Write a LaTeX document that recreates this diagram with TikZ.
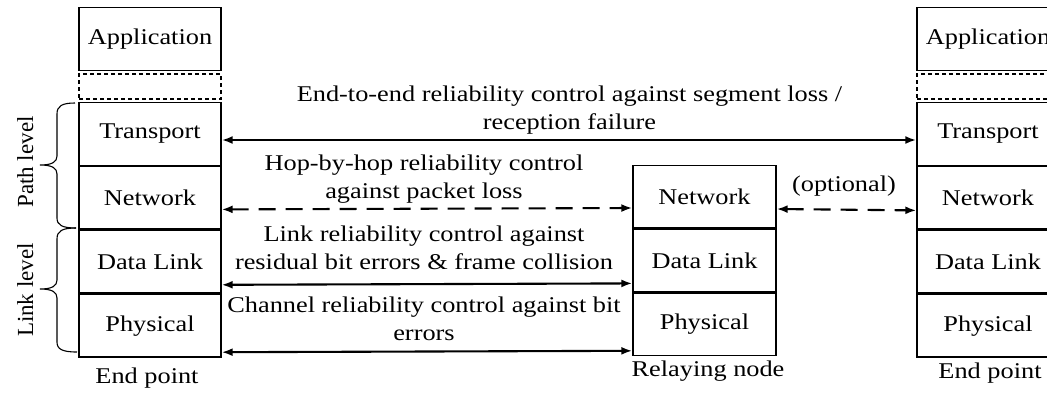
\documentclass[tikz,border=0pt]{standalone}
\usepackage{fontspec}
\setmainfont{Liberation Serif}[FakeStretch=1.17]
\newfontfamily\uprightlbl{Liberation Serif}
\usetikzlibrary{arrows.meta}
\begin{document}
\begin{tikzpicture}[x=1pt,y=-1pt,
  txt/.style={font=\fontsize{22.5pt}{28pt}\selectfont},
  layer/.style={draw, line width=1.4pt, minimum width=142pt, minimum height=62.5pt, inner sep=0pt, txt},
  gapbox/.style={draw, dash pattern=on 4pt off 3pt, line width=1.1pt, minimum width=142pt, minimum height=25pt, inner sep=0pt},
  link/.style={line width=2.1pt, {Latex[length=11pt,width=8pt]}-{Latex[length=11pt,width=8pt]}},
  dlink/.style={link, dash pattern=on 17pt off 10pt},
  lbl/.style={txt, align=center, inner sep=0pt},
  sidelbl/.style={font=\uprightlbl\fontsize{23pt}{28pt}\selectfont, inner sep=0pt, rotate=90, anchor=base},
  brc/.style={line width=1.1pt}]
\clip (0,0) rectangle (1047,392);

% left end point stack
\node[layer] (LA) at (150,39) {Application};
\node[gapbox] (LG) at (150,86.5) {};
\node[layer] (LT) at (150,134) {Transport};
\node[layer, anchor=north] (LN) at (LT.south) {Network};
\node[layer, anchor=north] (LD) at (LN.south) {Data Link};
\node[layer, anchor=north] (LP) at (LD.south) {Physical};
\node[lbl] (lep) at (147,378) {End point};

% relaying node stack
\node[layer, minimum width=143pt] (RN) at (704.5,196.5) {Network};
\node[layer, minimum width=143pt, anchor=north] (RD) at (RN.south) {Data Link};
\node[layer, minimum width=143pt, anchor=north] (RP) at (RD.south) {Physical};
\node[lbl] (relay) at (708,371) {Relaying node};

% right end point stack
\node[layer] (EA) at (988,39) {Application};
\node[gapbox] (EG) at (988,86.5) {};
\node[layer] (ET) at (988,134) {Transport};
\node[layer, anchor=north] (EN) at (ET.south) {Network};
\node[layer, anchor=north] (ED) at (EN.south) {Data Link};
\node[layer, anchor=north] (EP) at (ED.south) {Physical};
\node[lbl] (rep) at (990,373.5) {End point};

% reliability control relations
\draw[link] ([yshift=-6pt]LT.east) -- ([yshift=-6pt]ET.west);
\draw[dlink] ([yshift=-11.5pt]LN.east) -- ([yshift=-11.5pt]RN.west);
\draw[link] ([yshift=-23pt]LD.east) -- ([yshift=-23pt]RD.west);
\draw[link] ([yshift=-26.5pt]LP.east) -- ([yshift=-26.5pt]RP.west);
\draw[dlink] ([yshift=-12.5pt]RN.east) -- ([yshift=-12.5pt]EN.west);

\node[lbl] (e2e) at (569.5,110) {End-to-end reliability control against segment loss /\\reception failure};
\node[lbl] (hop) at (424,179) {Hop-by-hop reliability control\\against packet loss};
\node[lbl] (lrc) at (424,248) {Link reliability control against\\residual bit errors \& frame collision};
\node[lbl] (crc) at (424,319) {Channel reliability control against bit\\errors};
\node[lbl] (opt) at (844,186) {(optional)};

% level braces
\draw[brc] (75,103) .. controls (62,103) and (57,106) .. (57,114) -- (57,156)
  .. controls (57,162) and (52,165) .. (40,165)
  .. controls (52,165) and (57,168) .. (57,174) -- (57,218)
  .. controls (57,225) and (62,228) .. (76,228);
\draw[brc] (76,228) .. controls (62,228) and (57,231) .. (57,239) -- (57,280)
  .. controls (57,286) and (52,289) .. (40,289)
  .. controls (52,289) and (57,292) .. (57,298) -- (57,342)
  .. controls (57,349) and (62,352) .. (77,352);
\node[sidelbl] (pathlv) at (33,162) {Path level};
\node[sidelbl] (linklv) at (33,290) {Link level};
\end{tikzpicture}
\end{document}
